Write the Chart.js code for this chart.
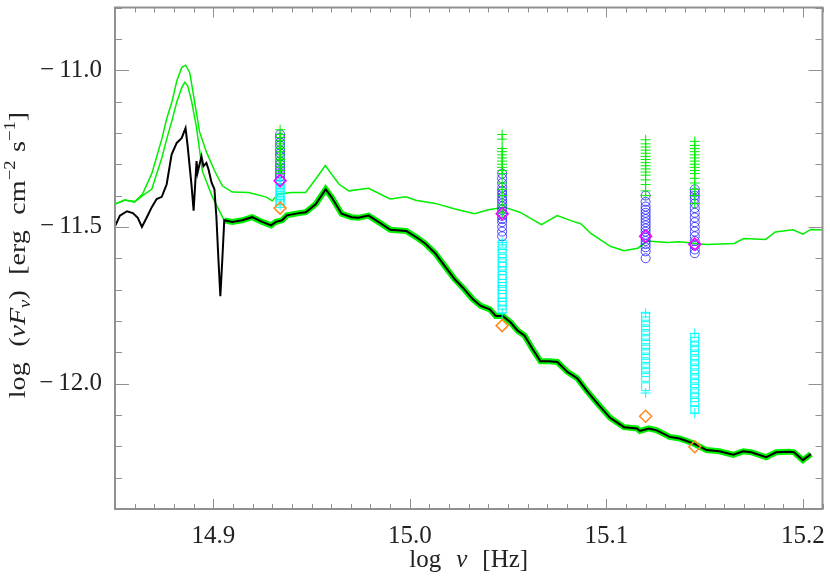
<!DOCTYPE html>
<html><head><meta charset="utf-8">
<script src="https://cdn.jsdelivr.net/npm/chart.js@4/dist/chart.umd.min.js"></script>
<style>html,body{margin:0;padding:0;background:#fff;}canvas{display:block;}</style>
</head><body>
<canvas id="c" width="830" height="576"></canvas>
<script>
// ---------- axis ticks ----------
const xTicks = [14.9, 15.0, 15.1, 15.2];
const yTicks = [-12.0, -11.5, -11.0];

// ---------- upper thin green model ----------
const upperX = [14.850,14.855,14.860,14.864,14.8687,14.8738,14.8763,14.879,14.8815,14.884,14.8859,14.888,14.8905,14.893,14.8964,14.9006,14.9046,14.9097,14.918,14.927,14.930,14.933,14.940,14.947,14.953,14.957,14.964,14.969,14.979,14.990,14.998,15.003,15.013,15.023,15.033,15.040,15.048,15.056,15.067,15.075,15.082,15.087,15.092,15.102,15.109,15.116,15.121,15.131,15.137,15.151,15.165,15.170,15.181,15.186,15.195,15.200,15.204,15.210];
const upperY = [-11.427,-11.414,-11.420,-11.395,-11.330,-11.220,-11.155,-11.100,-11.033,-10.991,-10.984,-11.007,-11.100,-11.196,-11.259,-11.320,-11.369,-11.389,-11.390,-11.405,-11.417,-11.395,-11.390,-11.390,-11.340,-11.304,-11.364,-11.385,-11.377,-11.411,-11.404,-11.415,-11.425,-11.443,-11.458,-11.445,-11.437,-11.453,-11.493,-11.464,-11.480,-11.490,-11.520,-11.562,-11.576,-11.568,-11.545,-11.550,-11.547,-11.556,-11.553,-11.537,-11.540,-11.516,-11.509,-11.523,-11.508,-11.510];

// ---------- lower green model, left (thin) part ----------
const modelLeftX = [14.850,14.855,14.860,14.864,14.8687,14.8738,14.8763,14.879,14.8815,14.884,14.8855,14.887,14.889,14.8915,14.8945,14.8996,14.9031];
const modelLeftY = [-11.427,-11.414,-11.420,-11.400,-11.380,-11.280,-11.220,-11.160,-11.100,-11.055,-11.039,-11.050,-11.100,-11.184,-11.323,-11.405,-11.449];

// ---------- observed spectrum (black) ----------
const specX = [14.8500,14.8525,14.8561,14.8591,14.8616,14.8637,14.8662,14.8687,14.8712,14.8738,14.8763,14.8788,14.8814,14.8839,14.8859,14.8869,14.8889,14.8900,14.8915,14.8920,14.8940,14.8950,14.8965,14.8976,14.8991,14.9006,14.9016,14.9026,14.9036,14.9046,
 14.9056,14.9097,14.9147,14.9198,14.9249,14.9294,14.9319,14.9350,14.9375,14.9436,14.9471,14.9522,14.9572,14.9603,14.9653,14.9704,14.9739,14.9790,14.9840,14.9901,14.9982,15.0043,15.0078,15.0129,15.0179,15.0230,15.0270,15.0321,15.0361,15.0407,15.0437,15.0473,15.0513,15.0549,15.0584,15.0624,15.0665,15.0710,15.0751,15.0801,15.0852,15.0903,15.0953,15.1019,15.1090,15.1156,15.1171,15.1216,15.1257,15.1322,15.1373,15.1444,15.1510,15.1575,15.1646,15.1697,15.1737,15.1813,15.1864,15.1929,15.1955,15.2000,15.2041];
const specY = [-11.498,-11.464,-11.450,-11.456,-11.471,-11.500,-11.469,-11.437,-11.411,-11.404,-11.364,-11.269,-11.232,-11.217,-11.185,-11.238,-11.364,-11.448,-11.290,-11.327,-11.275,-11.306,-11.296,-11.317,-11.358,-11.380,-11.469,-11.600,-11.721,-11.605,
 -11.479,-11.484,-11.479,-11.469,-11.484,-11.495,-11.484,-11.479,-11.463,-11.456,-11.453,-11.427,-11.380,-11.406,-11.458,-11.469,-11.471,-11.464,-11.484,-11.509,-11.513,-11.537,-11.553,-11.584,-11.626,-11.668,-11.694,-11.731,-11.752,-11.763,-11.784,-11.784,-11.805,-11.831,-11.847,-11.889,-11.929,-11.929,-11.931,-11.962,-11.983,-12.025,-12.062,-12.109,-12.139,-12.143,-12.151,-12.143,-12.149,-12.170,-12.175,-12.191,-12.212,-12.216,-12.227,-12.216,-12.219,-12.235,-12.219,-12.217,-12.219,-12.244,-12.225];
const joinX = 14.905;

// ---------- photometric bands ----------
const bandX = [14.934, 15.047, 15.120, 15.145];
const greenPlusY = [
 [-11.190,-11.205,-11.215,-11.225,-11.235,-11.245,-11.250,-11.260,-11.270,-11.280,-11.285,-11.290,-11.300,-11.310,-11.320,-11.330],
 [-11.205,-11.220,-11.250,-11.260,-11.270,-11.280,-11.290,-11.300,-11.310,-11.320,-11.330,-11.360,-11.380,-11.400,-11.430,-11.455],
 [-11.222,-11.235,-11.245,-11.255,-11.265,-11.275,-11.285,-11.295,-11.305,-11.315,-11.325,-11.335,-11.350,-11.365,-11.385,-11.400],
 [-11.227,-11.240,-11.250,-11.260,-11.270,-11.280,-11.290,-11.300,-11.310,-11.320,-11.330,-11.345,-11.360,-11.380,-11.400,-11.425]
];
const blueCircY = [
 [-11.205,-11.215,-11.230,-11.240,-11.255,-11.265,-11.275,-11.290,-11.300,-11.310,-11.320,-11.330,-11.340,-11.350],
 [-11.330,-11.345,-11.360,-11.375,-11.385,-11.395,-11.405,-11.415,-11.425,-11.435,-11.445,-11.455,-11.465,-11.475,-11.485,-11.500,-11.515,-11.530],
 [-11.400,-11.420,-11.435,-11.445,-11.455,-11.465,-11.475,-11.485,-11.495,-11.505,-11.515,-11.525,-11.535,-11.545,-11.555,-11.565,-11.578,-11.600],
 [-11.380,-11.390,-11.400,-11.410,-11.425,-11.440,-11.455,-11.470,-11.485,-11.500,-11.515,-11.530,-11.545,-11.560,-11.572,-11.584]
];
const cyanSqY = [
 [-11.355,-11.365,-11.375,-11.385,-11.395,-11.405,-11.415,-11.425],
 [-11.555,-11.570,-11.585,-11.600,-11.615,-11.625,-11.640,-11.655,-11.665,-11.680,-11.690,-11.700,-11.715,-11.725,-11.740,-11.750,-11.762],
 [-11.785,-11.800,-11.815,-11.830,-11.845,-11.860,-11.875,-11.890,-11.905,-11.920,-11.935,-11.950,-11.965,-11.980,-12.010],
 [-11.852,-11.865,-11.880,-11.895,-11.910,-11.925,-11.940,-11.955,-11.970,-11.985,-12.000,-12.015,-12.030,-12.045,-12.060,-12.083]
];
const cyanPlusY = [[-11.350,-11.430],[-11.550,-11.775],[-11.775,-12.030],[-11.840,-12.094]];
const magentaY = [-11.353, -11.458, -11.530, -11.555];
const orangeY  = [-11.440, -11.815, -12.104, -12.2016];

// ---------- helpers ----------
const FONT = "'Liberation Serif', 'Times New Roman', serif";
const TEXT = '#222222';
const AXIS = '#909090';
const pts = (xs, ys) => xs.map((x, i) => ({x, y: ys[i]}));
const bandPts = lists => { const o = []; lists.forEach((l, i) => l.forEach(y => o.push({x: bandX[i], y}))); return o; };
const onePts = ys => ys.map((y, i) => ({x: bandX[i], y}));
const specPts = pts(specX, specY);
const modelPts = pts(modelLeftX, modelLeftY).concat(specPts.filter(p => p.x >= joinX));

function fontOf(p, size){ return (p.i ? 'italic ' : '') + Math.round(size * (p.s || 1)) + 'px ' + FONT; }
function drawRich(ctx, pieces, size){
  let total = 0;
  const ws = pieces.map(p => { if (p.gap) { total += p.gap * size; return p.gap * size; }
    ctx.font = fontOf(p, size); const w = ctx.measureText(p.t).width; total += w; return w; });
  let x = -total / 2;
  pieces.forEach((p, k) => { if (!p.gap) { ctx.font = fontOf(p, size); ctx.fillText(p.t, x, (p.dy || 0) * size); } x += ws[k]; });
}

const framePlugin = {
  id: 'frame',
  afterDraw(chart){
    const {ctx, chartArea: a, scales: {x, y}} = chart;
    ctx.save();
    ctx.strokeStyle = AXIS;
    ctx.lineWidth = 1;
    ctx.beginPath();
    for (let k = Math.ceil(x.min * 100 - 1e-6); k <= Math.floor(x.max * 100 + 1e-6); k++){
      const px = Math.round(x.getPixelForValue(k / 100)) + 0.5;
      const L = (k % 10 === 0) ? 10 : 5;
      ctx.moveTo(px, a.bottom); ctx.lineTo(px, a.bottom - L);
      ctx.moveTo(px, a.top); ctx.lineTo(px, a.top + L);
    }
    for (let k = Math.ceil(y.min * 10 - 1e-6); k <= Math.floor(y.max * 10 + 1e-6); k++){
      const py = Math.round(y.getPixelForValue(k / 10)) + 0.5;
      const L = (k % 5 === 0) ? 14 : 7;
      ctx.moveTo(a.left, py); ctx.lineTo(a.left + L, py);
      ctx.moveTo(a.right, py); ctx.lineTo(a.right - L, py);
    }
    ctx.stroke();
    ctx.lineWidth = 2;
    ctx.strokeRect(a.left, a.top, a.right - a.left, a.bottom - a.top);

    ctx.fillStyle = TEXT;
    ctx.textBaseline = 'alphabetic';
    ctx.textAlign = 'left';
    // x title
    ctx.save();
    ctx.translate((a.left + a.right) / 2, 567);
    drawRich(ctx, [{t: 'log'}, {gap: 0.6}, {t: 'ν', i: true}, {gap: 0.6}, {t: '[Hz]'}], 25);
    ctx.restore();
    // y title
    ctx.save();
    ctx.translate(25, 255);
    ctx.rotate(-Math.PI / 2);
    ctx.scale(1.17, 1);
    drawRich(ctx, [{t: 'log'}, {gap: 0.55}, {t: '('}, {t: 'ν', i: true}, {t: 'F', i: true}, {t: 'ν', i: true, s: 0.65, dy: 0.22}, {t: ')'},
      {gap: 0.55}, {t: '[erg'}, {gap: 0.55}, {t: 'cm'}, {t: '−2', s: 0.65, dy: -0.42}, {gap: 0.3}, {t: 's'}, {t: '−1', s: 0.65, dy: -0.42}, {t: ']'}], 24);
    ctx.restore();
    ctx.restore();
  }
};

const clear = 'rgba(0,0,0,0)';
new Chart(document.getElementById('c'), {
  type: 'line',
  data: {
    datasets: [
      {type: 'scatter', label: 'observed photometry', data: onePts(orangeY), pointStyle: 'rectRot', pointRadius: 6, borderColor: '#ff8a1c', backgroundColor: clear, borderWidth: 1.5, order: 0},
      {type: 'scatter', label: 'mean', data: onePts(magentaY), pointStyle: 'rectRot', pointRadius: 6, borderColor: '#ff00ff', backgroundColor: clear, borderWidth: 1.5, order: 1},
      {type: 'scatter', label: 'cyan +', data: bandPts(cyanPlusY), pointStyle: 'cross', pointRadius: 5, borderColor: '#00ffff', backgroundColor: clear, borderWidth: 1, order: 2},
      {type: 'scatter', label: 'green +', data: bandPts(greenPlusY), pointStyle: 'cross', pointRadius: 5, borderColor: '#00ee00', backgroundColor: clear, borderWidth: 1, order: 3},
      {type: 'scatter', label: 'blue o', data: bandPts(blueCircY), pointStyle: 'circle', pointRadius: 4.5, borderColor: 'rgba(20,20,255,0.75)', backgroundColor: clear, borderWidth: 1, order: 4},
      {type: 'scatter', label: 'cyan sq', data: bandPts(cyanSqY), pointStyle: 'rect', pointRadius: 5.6, borderColor: '#00ffff', backgroundColor: clear, borderWidth: 1, order: 5},
      {type: 'line', label: 'spectrum', data: specPts, borderColor: '#000000', borderWidth: 2, pointRadius: 0, tension: 0, fill: false, order: 6},
      {type: 'line', label: 'model', data: modelPts, borderColor: '#00ee00', borderWidth: 1.5, pointRadius: 0, tension: 0, fill: false, order: 7,
        segment: {borderWidth: c => (c.p0.parsed.x >= joinX ? 6 : 1.5)}},
      {type: 'line', label: 'upper model', data: pts(upperX, upperY), borderColor: '#00ee00', borderWidth: 1.5, pointRadius: 0, tension: 0, fill: false, order: 8}
    ]
  },
  options: {
    responsive: false,
    animation: false,
    devicePixelRatio: 1,
    layout: {padding: {left: 0, top: 1, right: 3, bottom: 0}},
    plugins: {legend: {display: false}, tooltip: {enabled: false}},
    scales: {
      x: {
        type: 'linear', min: 14.85, max: 15.21,
        afterBuildTicks: s => { s.ticks = xTicks.map(v => ({value: v})); },
        afterFit: s => { s.height = 67; s.paddingLeft = 0; s.paddingRight = 0; },
        grid: {display: false, drawTicks: false}, border: {display: false},
        ticks: {padding: 12, color: TEXT, font: {family: FONT, size: 25}, maxRotation: 0, autoSkip: false,
          callback: v => Number(v).toFixed(1)}
      },
      y: {
        type: 'linear', min: -12.4, max: -10.8,
        afterBuildTicks: s => { s.ticks = yTicks.map(v => ({value: v})); },
        afterFit: s => { s.width = 115; s.paddingTop = 0; s.paddingBottom = 0; },
        grid: {display: false, drawTicks: false}, border: {display: false},
        ticks: {padding: 13, color: TEXT, font: {family: FONT, size: 25}, autoSkip: false,
          callback: v => (v < 0 ? '−\u2009' : '') + Math.abs(Number(v)).toFixed(1)}
      }
    }
  },
  plugins: [framePlugin]
});
</script>
</body></html>
